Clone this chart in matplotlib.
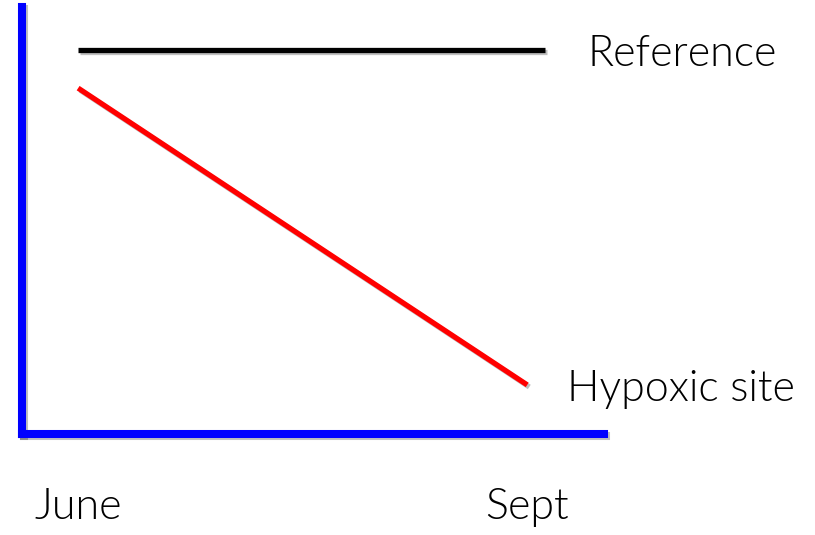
import matplotlib
matplotlib.use("Agg")
import matplotlib.pyplot as plt
import matplotlib.patheffects as pe

# Data
months = ["June", "Sept"]
month_x = [0, 1]
reference_x = [0, 1.04]
reference_y = [0.90, 0.90]
hypoxic_x = [0, 1]
hypoxic_y = [0.81, 0.115]
series_labels = ["Reference", "Hypoxic site"]

plt.rcParams['font.family'] = ['Lato', 'DejaVu Sans']

W, H = 815, 535
fig = plt.figure(figsize=(W / 100, H / 100), dpi=100)
ax = fig.add_axes([22 / W, (H - 434) / H, (604 - 22) / W, (434 - 7) / H])
ax.set_xlim(-0.125, 1.171)
ax.set_ylim(0, 1)

shadow = [pe.SimpleLineShadow(offset=(1.5, -1.5), shadow_color='black', alpha=0.25), pe.Normal()]

ax.plot(reference_x, reference_y, color='black', lw=3.8, solid_capstyle='butt',
        path_effects=shadow)
ax.plot(hypoxic_x, hypoxic_y, color='#ff0000', lw=3.8, solid_capstyle='butt',
        path_effects=shadow)

FS = 31
FW = 300
for name, xs, ys, dx in [(series_labels[0], reference_x, reference_y, 42),
                          (series_labels[1], hypoxic_x, hypoxic_y, 40)]:
    ax.annotate(name, xy=(xs[-1], ys[-1]), xytext=(dx, -16), textcoords='offset pixels',
                ha='left', va='baseline', fontsize=FS, fontweight=FW, color='black',
                annotation_clip=False)

for s in ['top', 'right']:
    ax.spines[s].set_visible(False)
for s in ['left', 'bottom']:
    ax.spines[s].set_color('#0000ff')
    ax.spines[s].set_linewidth(5.8)
    ax.spines[s].set_capstyle('projecting')
    ax.spines[s].set_path_effects(shadow)

ax.set_yticks([])
ax.set_xticks(month_x)
ax.set_xticklabels(months, fontsize=FS, fontweight=FW)
ax.tick_params(axis='x', length=0, pad=39)
ax.patch.set_visible(False)

fig.savefig("out.png", dpi=100)
